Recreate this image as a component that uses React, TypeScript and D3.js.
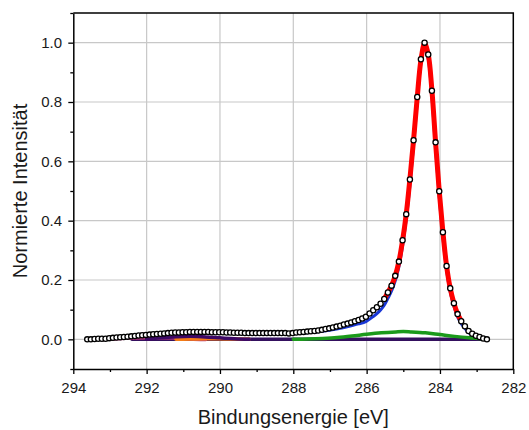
import React, { useEffect, useRef } from "react";
import * as d3 from "d3";

const W = 529;
const H = 430;
const X0 = 73.3, X1 = 513.3, Y0 = 369, Y1 = 13;

// measured spectrum: energies start at 293.62 eV, 0.1 eV step, decreasing
const energyStart = 293.62;
const energyStep = 0.1;
const dataIntensity = [
  0.000, 0.000, 0.001, 0.002, 0.002, 0.002, 0.004, 0.005, 0.006, 0.007,
  0.008, 0.009, 0.010, 0.011, 0.013, 0.014, 0.015, 0.016, 0.017, 0.018,
  0.019, 0.020, 0.021, 0.022, 0.023, 0.023, 0.024, 0.024, 0.025, 0.025,
  0.025, 0.025, 0.025, 0.025, 0.024, 0.024, 0.024, 0.024, 0.023, 0.023,
  0.022, 0.022, 0.022, 0.021, 0.021, 0.021, 0.021, 0.021, 0.021, 0.021,
  0.021, 0.021, 0.021, 0.021, 0.021, 0.020, 0.021, 0.023, 0.024, 0.025,
  0.026, 0.027, 0.028, 0.030, 0.032, 0.035, 0.037, 0.040, 0.043, 0.046,
  0.050, 0.053, 0.057, 0.061, 0.065, 0.070, 0.076, 0.087, 0.098, 0.108,
  0.120, 0.136, 0.158, 0.181, 0.214, 0.262, 0.334, 0.422, 0.539, 0.671,
  0.817, 0.944, 1.000, 0.960, 0.838, 0.664, 0.499, 0.361, 0.247, 0.172,
  0.122, 0.085, 0.061, 0.044, 0.028, 0.019, 0.012, 0.008, 0.003, 0.000,
];

// fit envelope (red)
const fitEnergy = [285.52, 285.42, 285.32, 285.22, 285.12, 285.02, 284.92, 284.82, 284.72, 284.62, 284.52, 284.42, 284.32, 284.22, 284.12, 284.02, 283.92, 283.82, 283.72, 283.62, 283.52, 283.42];
const fitIntensity = [0.136, 0.158, 0.181, 0.214, 0.262, 0.333, 0.422, 0.540, 0.672, 0.815, 0.940, 0.997, 0.960, 0.840, 0.665, 0.500, 0.362, 0.248, 0.172, 0.122, 0.086, 0.062];

// main component (blue)
const mainEnergy = [289.02, 288.52, 288.02, 287.62, 287.22, 286.82, 286.42, 286.22, 286.02, 285.82, 285.72, 285.62, 285.52, 285.42, 285.32, 285.22, 285.12, 285.02, 284.92, 284.82, 284.72, 284.62, 284.52, 284.42, 284.32, 284.22, 284.12, 284.02, 283.92, 283.82, 283.72, 283.62, 283.52, 283.42, 283.32, 283.22, 283.12, 283.02, 282.92, 282.82, 282.72];
const mainIntensity = [0.017, 0.018, 0.019, 0.022, 0.027, 0.035, 0.046, 0.052, 0.060, 0.077, 0.087, 0.099, 0.115, 0.138, 0.163, 0.197, 0.245, 0.315, 0.405, 0.520, 0.655, 0.800, 0.930, 0.985, 0.945, 0.820, 0.645, 0.482, 0.345, 0.234, 0.160, 0.112, 0.076, 0.053, 0.037, 0.023, 0.015, 0.009, 0.005, 0.002, 0.000];

// second component (green)
const greenEnergy = [288.0, 287.6, 287.2, 286.8, 286.4, 286.0, 285.6, 285.2, 285.0, 284.8, 284.4, 284.0, 283.6, 283.2, 282.8];
const greenIntensity = [0.000, 0.001, 0.003, 0.006, 0.011, 0.017, 0.022, 0.025, 0.026, 0.025, 0.022, 0.016, 0.010, 0.005, 0.001];

// satellite components
const sat1Energy = [293.2, 292.8, 292.4, 292.0, 291.6, 291.2, 290.8, 290.4];
const sat1Intensity = [0.000, 0.003, 0.005, 0.006, 0.006, 0.005, 0.002, 0.000];
const sat2Energy = [291.2, 290.8, 290.4, 290.0, 289.6, 289.2];
const sat2Intensity = [0.000, 0.001, 0.002, 0.002, 0.001, 0.000];
const sat3Energy = [292.0, 291.6, 291.2, 290.8, 290.4, 290.0, 289.6, 289.2];
const sat3Intensity = [0.000, 0.006, 0.009, 0.010, 0.008, 0.005, 0.002, 0.000];
const baseEnergy = [292.4, 282.72];
const baseIntensity = [0, 0];

const xMajorTicks = [294, 292, 290, 288, 286, 284, 282];
const xMinorTicks = [293, 291, 289, 287, 285, 283];
const xGrid = [292, 290, 288, 286, 284];
const yMajorTicks = [0, 0.2, 0.4, 0.6, 0.8, 1.0];
const yMinorTicks = [-0.1, 0.1, 0.3, 0.5, 0.7, 0.9, 1.1];

const FONT = "'Liberation Sans', Arial, Helvetica, sans-serif";

export default function App() {
  const ref = useRef<SVGSVGElement>(null);

  useEffect(() => {
    document.body.style.margin = "0";
    const svg = d3.select(ref.current);
    svg.selectAll("*").remove();

    const x = d3.scaleLinear().domain([294, 282]).range([X0, X1]);
    const y = d3.scaleLinear().domain([-0.1, 1.1]).range([Y0, Y1]);

    svg.append("rect").attr("width", W).attr("height", H).attr("fill", "#fff");

    // grid
    const g = svg.append("g");
    g.selectAll("line.gx").data(xGrid).enter().append("line")
      .attr("x1", (d) => x(d)).attr("x2", (d) => x(d))
      .attr("y1", Y1).attr("y2", Y0)
      .attr("stroke", "#c8c8c8").attr("stroke-width", 1.2);
    g.selectAll("line.gy").data(yMajorTicks).enter().append("line")
      .attr("y1", (d) => y(d)).attr("y2", (d) => y(d))
      .attr("x1", X0).attr("x2", X1)
      .attr("stroke", "#c8c8c8").attr("stroke-width", 1.2);

    const line = (xs: number[], ys: number[], curve: any) =>
      d3.line<number>().x((_, i) => x(xs[i])).y((d) => y(d)).curve(curve)(ys);

    const drawLine = (xs: number[], ys: number[], color: string, width: number, curve: any = d3.curveMonotoneX) => {
      svg.append("path")
        .attr("d", line(xs.slice().reverse(), ys.slice().reverse(), curve) as string)
        .attr("fill", "none").attr("stroke", color).attr("stroke-width", width)
        .attr("stroke-linejoin", "round").attr("stroke-linecap", "round");
    };

    drawLine(baseEnergy, baseIntensity, "#34105e", 3.5);
    drawLine(sat1Energy, sat1Intensity, "#b5367a", 4);
    drawLine(sat2Energy, sat2Intensity, "#f57d15", 3.5);
    drawLine(sat3Energy, sat3Intensity, "#3d0965", 3.5);
    drawLine(greenEnergy, greenIntensity, "#1b9a1b", 3.5);
    drawLine(mainEnergy, mainIntensity, "#1a38d6", 3, d3.curveCatmullRom);
    drawLine(fitEnergy, fitIntensity, "#ff0000", 5, d3.curveCatmullRom);

    const energies = dataIntensity.map((_, i) => +(energyStart - energyStep * i).toFixed(2));
    svg.append("g").selectAll("circle").data(dataIntensity).enter().append("circle")
      .attr("cx", (_, i) => x(energies[i])).attr("cy", (d) => y(d))
      .attr("r", 2.6).attr("fill", "#fff").attr("stroke", "#000").attr("stroke-width", 1.3);

    // frame
    svg.append("path")
      .attr("d", `M${X0},${Y1}H${X1}V${Y0}`)
      .attr("fill", "none").attr("stroke", "#000").attr("stroke-width", 1.5);

    // axes
    const xAxis = svg.append("g").attr("transform", `translate(0,${Y0})`)
      .call(d3.axisBottom(x).tickValues(xMajorTicks).tickSize(5).tickSizeOuter(0).tickPadding(8.5).tickFormat(d3.format("d")));
    svg.append("g").attr("transform", `translate(0,${Y0})`)
      .call(d3.axisBottom(x).tickValues(xMinorTicks).tickSize(3).tickSizeOuter(0).tickFormat(() => ""))
      .select(".domain").remove();
    const yAxis = svg.append("g").attr("transform", `translate(${X0},0)`)
      .call(d3.axisLeft(y).tickValues(yMajorTicks).tickSize(5).tickSizeOuter(0).tickPadding(6.3).tickFormat(d3.format(".1f")));
    svg.append("g").attr("transform", `translate(${X0},0)`)
      .call(d3.axisLeft(y).tickValues(yMinorTicks).tickSize(3).tickSizeOuter(0).tickFormat(() => ""))
      .select(".domain").remove();

    svg.selectAll(".domain").attr("stroke", "#000").attr("stroke-width", 1.5);
    svg.selectAll(".tick line").attr("stroke", "#000").attr("stroke-width", 1.3);
    [xAxis, yAxis].forEach((a) =>
      a.selectAll("text").attr("font-family", FONT).attr("font-size", 15).attr("fill", "#1a1a1a"));

    svg.append("text")
      .attr("x", (X0 + X1) / 2).attr("y", 423.5)
      .attr("text-anchor", "middle")
      .attr("font-family", FONT).attr("font-size", 20).attr("fill", "#1a1a1a")
      .text("Bindungsenergie [eV]");
    svg.append("text")
      .attr("transform", `translate(27,${(Y0 + Y1) / 2}) rotate(-90)`)
      .attr("text-anchor", "middle")
      .attr("font-family", FONT).attr("font-size", 20).attr("fill", "#1a1a1a")
      .text("Normierte Intensität");
  }, []);

  return (
    <div style={{ position: "absolute", left: 0, top: 0 }}>
      <svg ref={ref} width={W} height={H} style={{ display: "block" }} />
    </div>
  );
}
